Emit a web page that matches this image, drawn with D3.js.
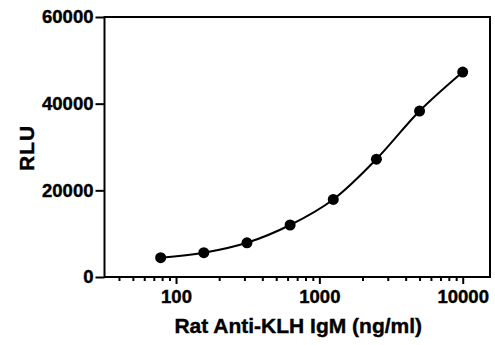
<!DOCTYPE html>
<meta charset="utf-8">
<style>
body { margin: 0; background: #fff; }
text { font-family: 'Liberation Sans', Arial, sans-serif; font-weight: bold; fill: #000; stroke: #000; stroke-width: 0.4px; }
.axis path, .axis line { stroke: #000; stroke-width: 2px; fill: none; }
.axis text { font-size: 18.5px; }
</style>
<div class="chart"></div>
<script src="https://d3js.org/d3.v7.min.js"></script>
<script>
    // concentrations (ng/ml) and signal
    var conc = [78.125, 156.25, 312.5, 625, 1250, 2500, 5000, 10000];
    var rlu = [4450, 5600, 7900, 12000, 17900, 27200, 38300, 47300];
    var xMajor = [100, 1000, 10000];
    var xMinor = [40, 50, 60, 70, 80, 90, 200, 300, 400, 500, 600, 700, 800, 900,
                  2000, 3000, 4000, 5000, 6000, 7000, 8000, 9000];
    var yTicks = [0, 20000, 40000, 60000];

    var margin = { top: 17, right: 5, bottom: 68, left: 104.5 };
    var width = 495 - margin.left - margin.right;
    var height = 345 - margin.top - margin.bottom;

    var svg = d3.select(".chart")
        .append("svg")
        .attr("width", 495)
        .attr("height", 345)
        .append("g")
        .attr("transform", "translate(" + margin.left + "," + margin.top + ")");

    var x = d3.scaleLog().domain([31.7, 15500]).range([0, width]);
    var y = d3.scaleLinear().domain([0, 60000]).range([height, 0]);

    // frame
    svg.append("rect")
        .attr("width", width)
        .attr("height", height)
        .style("fill", "none")
        .style("stroke", "#000")
        .style("stroke-width", 2);

    svg.append("g")
        .attr("class", "x axis")
        .attr("transform", "translate(0," + height + ")")
        .call(d3.axisBottom(x).tickValues(xMinor).tickSize(4).tickFormat(""))
        .select(".domain").remove();

    svg.append("g")
        .attr("class", "x axis")
        .attr("transform", "translate(0," + height + ")")
        .call(d3.axisBottom(x).tickValues(xMajor).tickSize(7).tickPadding(6).tickFormat(d3.format("d")))
        .select(".domain").remove();

    svg.append("g")
        .attr("class", "y axis")
        .call(d3.axisLeft(y).tickValues(yTicks).tickSize(9).tickPadding(2).tickFormat(d3.format("d")))
        .select(".domain").remove();

    var pts = conc.map(function (c, i) { return [c, rlu[i]]; });

    var line = d3.line()
        .x(function (d) { return x(d[0]); })
        .y(function (d) { return y(d[1]); })
        .curve(d3.curveCatmullRom.alpha(0.5));

    svg.append("path")
        .datum(pts)
        .attr("d", line)
        .style("fill", "none")
        .style("stroke", "#000")
        .style("stroke-width", 2);

    svg.selectAll(".dot")
        .data(pts)
        .enter()
        .append("circle")
        .attr("class", "dot")
        .attr("cx", function (d) { return x(d[0]); })
        .attr("cy", function (d) { return y(d[1]); })
        .attr("r", 5.5)
        .style("fill", "#000");

    svg.append("text")
        .attr("text-anchor", "middle")
        .attr("x", width / 2 + 1)
        .attr("y", height + 56)
        .style("font-size", "21px")
        .text("Rat Anti-KLH IgM (ng/ml)");

    svg.append("text")
        .attr("text-anchor", "middle")
        .attr("transform", "translate(-71," + (y(30000) + 1) + ") rotate(-90)")
        .style("font-size", "21px")
        .style("letter-spacing", "1px")
        .text("RLU");
</script>
